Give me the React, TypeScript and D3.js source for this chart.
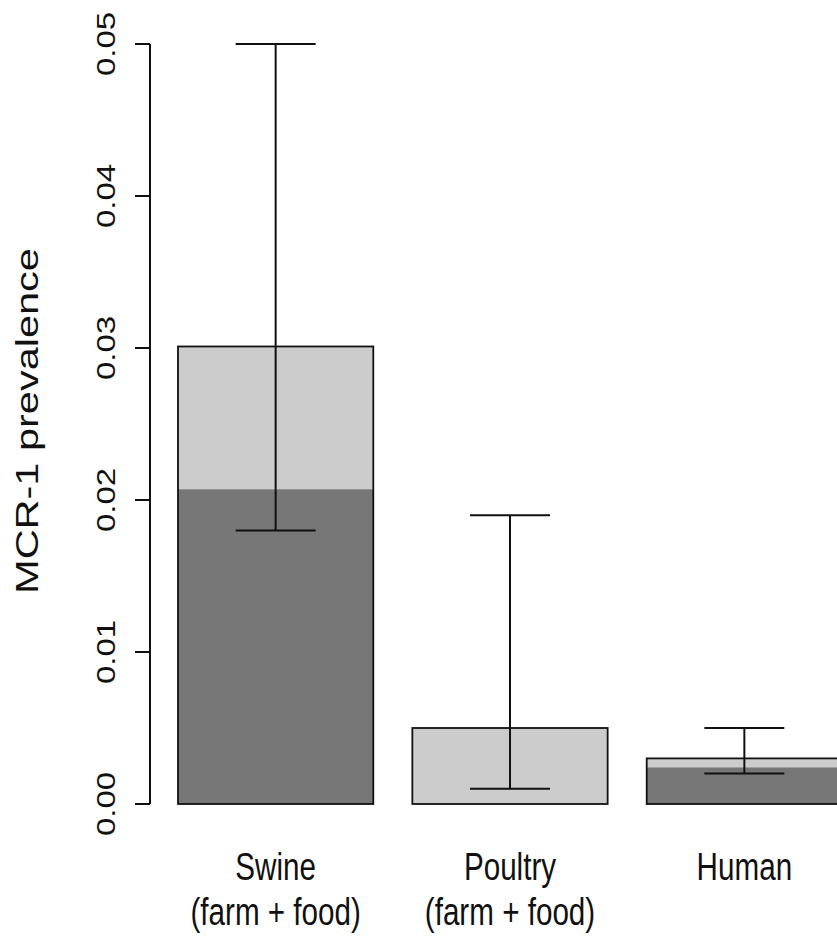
import React, { useEffect, useRef } from "react";
import * as d3 from "d3";

// values
const categories = ["Swine", "Poultry", "Human"];
const subLabels = ["(farm + food)", "(farm + food)", ""];
const totalPrevalence = [0.0301, 0.005, 0.003];
const darkPrevalence = [0.0207, 0, 0.0024];
const ciLower = [0.018, 0.001, 0.002];
const ciUpper = [0.05, 0.019, 0.005];
const yTicks = [0, 0.01, 0.02, 0.03, 0.04, 0.05];

const App = () => {
  const svgRef: any = useRef();

  useEffect(() => {
    const svg = d3.select(svgRef.current);
    svg.selectAll("*").remove();
    const width = 837;
    const height = 940;
    const squeeze = 0.76; // text in the picture is narrowed horizontally
    svg.attr("width", width).attr("height", height);

    const yScale = d3.scaleLinear().domain([0, 0.05]).range([804, 44]);
    const xScale = d3
      .scaleBand()
      .domain(categories)
      .range([178, 842])
      .paddingInner(1 / 6)
      .paddingOuter(0);
    const axisX = 150;

    const rows = categories.map((c, i) => ({
      name: c,
      sub: subLabels[i],
      total: totalPrevalence[i],
      dark: darkPrevalence[i],
      lo: ciLower[i],
      hi: ciUpper[i],
    }));

    // bars
    const g = svg.append("g");
    g.selectAll(".light")
      .data(rows)
      .join("rect")
      .attr("class", "light")
      .attr("x", (d) => xScale(d.name))
      .attr("y", (d) => yScale(d.total))
      .attr("width", xScale.bandwidth())
      .attr("height", (d) => yScale(0) - yScale(d.total))
      .attr("fill", "#cccccc");
    g.selectAll(".dark")
      .data(rows)
      .join("rect")
      .attr("class", "dark")
      .attr("x", (d) => xScale(d.name))
      .attr("y", (d) => yScale(d.dark))
      .attr("width", xScale.bandwidth())
      .attr("height", (d) => yScale(0) - yScale(d.dark))
      .attr("fill", "#777777");
    g.selectAll(".outline")
      .data(rows)
      .join("rect")
      .attr("class", "outline")
      .attr("x", (d) => xScale(d.name))
      .attr("y", (d) => yScale(d.total))
      .attr("width", xScale.bandwidth())
      .attr("height", (d) => yScale(0) - yScale(d.total))
      .attr("fill", "none")
      .attr("stroke", "#111")
      .attr("stroke-width", 1.8);

    // error bars
    const cap = 40;
    const cx = (d: any) => xScale(d.name) + xScale.bandwidth() / 2;
    const err = svg.append("g").attr("stroke", "#111").attr("stroke-width", 2);
    err.selectAll(".stem")
      .data(rows)
      .join("line")
      .attr("x1", cx)
      .attr("x2", cx)
      .attr("y1", (d) => yScale(d.lo))
      .attr("y2", (d) => yScale(d.hi));
    ["lo", "hi"].forEach((k) => {
      err.selectAll(".cap-" + k)
        .data(rows)
        .join("line")
        .attr("class", "cap-" + k)
        .attr("x1", (d) => cx(d) - cap)
        .attr("x2", (d) => cx(d) + cap)
        .attr("y1", (d: any) => yScale(d[k]))
        .attr("y2", (d: any) => yScale(d[k]));
    });

    // y axis
    const ax = svg.append("g").attr("stroke", "#111").attr("stroke-width", 2);
    ax.append("line")
      .attr("x1", axisX)
      .attr("x2", axisX)
      .attr("y1", yScale(0))
      .attr("y2", yScale(0.05));
    ax.selectAll(".tick")
      .data(yTicks)
      .join("line")
      .attr("x1", axisX - 15)
      .attr("x2", axisX)
      .attr("y1", (d) => yScale(d))
      .attr("y2", (d) => yScale(d));

    const font = "Liberation Sans, Arial, Helvetica, sans-serif";
    svg.selectAll(".ylab")
      .data(yTicks)
      .join("text")
      .attr("class", "ylab")
      .attr(
        "transform",
        (d) => `translate(115,${yScale(d)}) scale(${squeeze},1) rotate(-90)`
      )
      .attr("text-anchor", "middle")
      .attr("font-family", font)
      .attr("font-size", 33)
      .attr("fill", "#111")
      .text((d) => d.toFixed(2));

    svg.append("text")
      .attr("transform", `translate(38,421) scale(${squeeze},1) rotate(-90)`)
      .attr("text-anchor", "middle")
      .attr("font-family", font)
      .attr("font-size", 41.5)
      .attr("fill", "#111")
      .text("MCR-1 prevalence");

    // category labels
    svg.selectAll(".cat")
      .data(rows)
      .join("text")
      .attr("class", "cat")
      .attr("transform", (d) => `translate(${cx(d)},880) scale(${squeeze},1)`)
      .attr("text-anchor", "middle")
      .attr("font-family", font)
      .attr("font-size", 39)
      .attr("fill", "#111")
      .text((d) => d.name);
    svg.selectAll(".sub")
      .data(rows)
      .join("text")
      .attr("class", "sub")
      .attr("transform", (d) => `translate(${cx(d)},925) scale(${squeeze},1)`)
      .attr("text-anchor", "middle")
      .attr("font-family", font)
      .attr("font-size", 39)
      .attr("fill", "#111")
      .text((d) => d.sub);
  }, []);

  return (
    <svg
      ref={svgRef}
      style={{ position: "absolute", left: 0, top: 0, background: "#fff" }}
    ></svg>
  );
};

export default App;
